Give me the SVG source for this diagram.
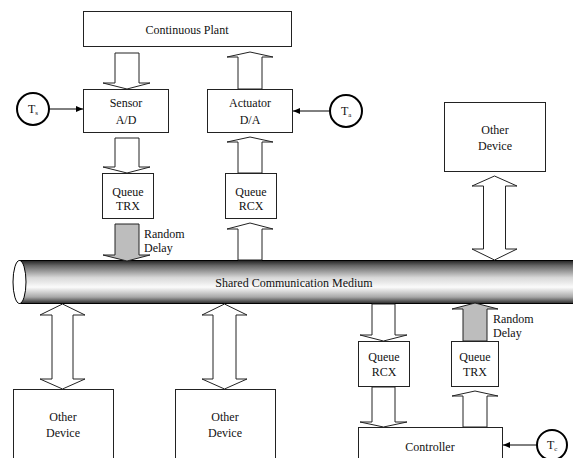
<svg xmlns="http://www.w3.org/2000/svg" width="573" height="458" viewBox="0 0 573 458" font-family="'Liberation Serif', 'Times New Roman', serif">
<style>
.box{fill:#fff;stroke:#222;stroke-width:1}
.arr{fill:#fff;stroke:#222;stroke-width:1;stroke-linejoin:miter}
.garr{fill:#bdbdbd;stroke:#222;stroke-width:1}
.clk{fill:#fff;stroke:#000;stroke-width:2}
.ln{stroke:#000;stroke-width:1;fill:none}
.t{font-family:'Liberation Serif','Times New Roman',serif;font-size:12px;fill:#111}
.c{text-anchor:middle}
.sub{font-size:7px}
</style>
<defs>
<linearGradient id="cyl" x1="0" y1="0" x2="0" y2="1">
<stop offset="0" stop-color="#222"/>
<stop offset="0.12" stop-color="#666"/>
<stop offset="0.4" stop-color="#d8d8d8"/>
<stop offset="0.62" stop-color="#fbfbfb"/>
<stop offset="0.85" stop-color="#a8a8a8"/>
<stop offset="1" stop-color="#2a2a2a"/>
</linearGradient>
<marker id="ah" markerWidth="8" markerHeight="8" refX="7" refY="4" orient="auto" markerUnits="userSpaceOnUse">
<path d="M0,1 L7,4 L0,7 Z" fill="#000"/>
</marker>
</defs>
<rect width="573" height="458" fill="#fff"/>

<g id="medium">
<rect x="19" y="260.5" width="560" height="43" fill="url(#cyl)"/>
<line class="ln" x1="19" y1="260.5" x2="573" y2="260.5"/>
<line class="ln" x1="19" y1="303.5" x2="573" y2="303.5"/>
<ellipse cx="19.5" cy="282" rx="6.5" ry="21.5" fill="#fff" stroke="#000" stroke-width="1"/>
<text class="t c" x="294" y="287" font-size="13">Shared Communication Medium</text>
</g>

<g id="connectors">
<polygon class="arr" points="115,53 139,53 139,83 150,83 127,89 103,83 115,83"/>
<polygon class="arr" points="115,138 139,138 139,167 150,167 127,173 103,167 115,167"/>
<polygon class="garr" points="115,224 139,224 139,255 150,255 127,261 103,255 115,255"/>
<polygon class="arr" points="250,52 273,57 262,57 262,89 238,89 238,57 227,57"/>
<polygon class="arr" points="250,137 273,142 262,142 262,173 238,173 238,142 227,142"/>
<polygon class="arr" points="250,223 273,229 262,229 262,260 238,260 238,229 227,229"/>
<polygon class="arr" points="62.5,304 85,315 73,315 73,379 85,379 62.5,389 40,379 52,379 52,315 40,315"/>
<polygon class="arr" points="224.5,304 247,315 236,315 236,379 247,379 224.5,389 202,379 213,379 213,315 202,315"/>
<polygon class="arr" points="494.5,176 517,186 505.5,186 505.5,249 517,249 494.5,260 472,249 483.5,249 483.5,186 472,186"/>
<polygon class="arr" points="372,304 395,304 395,335 407,335 383.5,341 360,335 372,335"/>
<polygon class="arr" points="372,387 395,387 395,422 407,422 383.5,427 360,422 372,422"/>
<polygon class="garr" points="475,303 498,309 487,309 487,341 463,341 463,309 452,309"/>
<polygon class="arr" points="475,391 498,396 487,396 487,427 463,427 463,396 452,396"/>
<line class="ln" x1="49" y1="109" x2="83" y2="109" marker-end="url(#ah)"/>
<line class="ln" x1="329" y1="111" x2="293" y2="111" marker-end="url(#ah)"/>
<line class="ln" x1="537" y1="445" x2="503" y2="445" marker-end="url(#ah)"/>
<text class="t" x="144" y="238">Random</text>
<text class="t" x="144" y="252">Delay</text>
<text class="t" x="493" y="323">Random</text>
<text class="t" x="493" y="337">Delay</text>
</g>

<g id="plant">
<rect class="box" x="83.5" y="11.5" width="208" height="35"/>
<text class="t c" x="187" y="34" font-size="12.6">Continuous Plant</text>
</g>
<g id="sensor">
<rect class="box" x="83.5" y="89.5" width="85" height="43"/>
<text class="t c" x="126" y="107">Sensor</text>
<text class="t c" x="126" y="124">A/D</text>
</g>
<g id="actuator">
<rect class="box" x="207.5" y="89.5" width="85" height="43"/>
<text class="t c" x="250" y="107">Actuator</text>
<text class="t c" x="250" y="124">D/A</text>
</g>
<g id="queue-trx-top">
<rect class="box" x="102.5" y="173.5" width="51" height="45"/>
<text class="t c" x="128" y="196">Queue</text>
<text class="t c" x="128" y="210">TRX</text>
</g>
<g id="queue-rcx-top">
<rect class="box" x="225.5" y="173.5" width="51" height="45"/>
<text class="t c" x="251" y="196">Queue</text>
<text class="t c" x="251" y="210">RCX</text>
</g>
<g id="other-device-right">
<rect class="box" x="444.5" y="102.5" width="101" height="69"/>
<text class="t c" x="495" y="134">Other</text>
<text class="t c" x="495" y="150">Device</text>
</g>
<g id="other-device-1">
<rect class="box" x="13.5" y="389.5" width="100" height="80"/>
<text class="t c" x="63" y="421">Other</text>
<text class="t c" x="63" y="437">Device</text>
</g>
<g id="other-device-2">
<rect class="box" x="175.5" y="389.5" width="100" height="80"/>
<text class="t c" x="225" y="421">Other</text>
<text class="t c" x="225" y="437">Device</text>
</g>
<g id="queue-rcx-bottom">
<rect class="box" x="358.5" y="341.5" width="51" height="45"/>
<text class="t c" x="384" y="361">Queue</text>
<text class="t c" x="384" y="376">RCX</text>
</g>
<g id="queue-trx-bottom">
<rect class="box" x="451.5" y="341.5" width="47" height="45"/>
<text class="t c" x="475" y="361">Queue</text>
<text class="t c" x="475" y="376">TRX</text>
</g>
<g id="controller">
<rect class="box" x="358.5" y="427.5" width="144" height="40"/>
<text class="t c" x="430" y="451">Controller</text>
</g>
<g id="clock-ts">
<circle class="clk" cx="33" cy="109" r="16"/>
<text class="t" x="28" y="113">T<tspan class="sub" font-size="7" dy="2">s</tspan></text>
</g>
<g id="clock-ta">
<circle class="clk" cx="346" cy="111" r="16"/>
<text class="t" x="341" y="115">T<tspan class="sub" font-size="7" dy="2">a</tspan></text>
</g>
<g id="clock-tc">
<circle class="clk" cx="552" cy="445" r="15"/>
<text class="t" x="547" y="449">T<tspan class="sub" font-size="7" dy="2">c</tspan></text>
</g>
</svg>
